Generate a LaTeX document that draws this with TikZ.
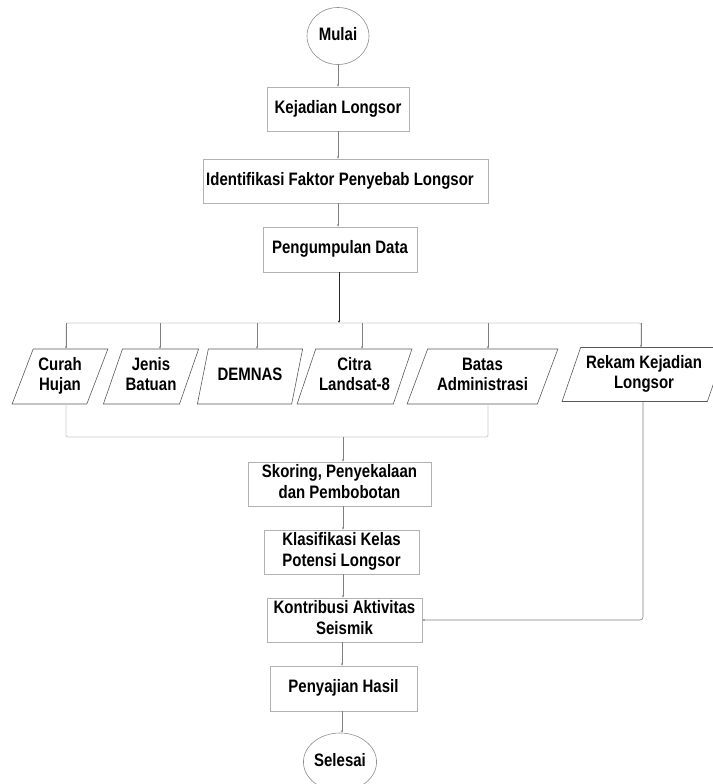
\documentclass[tikz,border=0pt]{standalone}
\usepackage{fontspec}
\usepackage{graphicx}
\setmainfont{Liberation Sans}
\usetikzlibrary{shapes.geometric,arrows.meta}
\newcommand\tx[1]{\scalebox{1}[1.2]{\begin{tabular}{@{}c@{}}#1\end{tabular}}}
\begin{document}
\begin{tikzpicture}[x=1pt,y=-1pt,
  every node/.style={font=\fontsize{15}{16.7}\selectfont\bfseries, inner sep=0pt},
  procbox/.style={draw=black!30, line width=0.7pt, rectangle, align=center},
  termnode/.style={draw=black!45, line width=0.6pt, ellipse},
  para/.style={draw=black!65, line width=0.6pt, trapezium, trapezium left angle=67,
    trapezium right angle=113, trapezium stretches=true, align=center, minimum height=55},
  conn/.style={draw=black!50, line width=0.6pt},
  arr/.style={conn, -{Stealth[length=2.5pt,width=2.2pt]}},
  busline/.style={draw=black!20, line width=0.8pt}
]
\path[use as bounding box] (0,0) rectangle (712,784);

% main column
\node[termnode, minimum width=62, minimum height=57] (mulai) at (338,36) {\tx{Mulai}};
\node[procbox, minimum width=142, minimum height=44] (kej) at (338,109) {\tx{Kejadian Longsor}};
\node[procbox, minimum width=285, minimum height=44] (ident) at (345.5,181) {\tx{Identifikasi Faktor Penyebab Longsor}\hspace{11pt}};
\node[procbox, minimum width=154, minimum height=45] (peng) at (340,249.5) {\tx{Pengumpulan Data}};

% data inputs
\node[para, minimum width=96] (curah) at (60,376.5) {\tx{Curah\\Hujan}};
\node[para, minimum width=96] (jenis) at (151,376.5) {\tx{Jenis\\Batuan}};
\node[para, minimum width=106] (demnas) at (250,376.5) {\tx{DEMNAS}};
\node[para, minimum width=115] (citra) at (354.5,376.5) {\tx{Citra\\Landsat-8}};
\node[para, minimum width=151] (batas) at (482.5,376.5) {\tx{Batas\\Administrasi}};
\node[para, minimum width=164, minimum height=54] (rekam) at (644,374.5) {\tx{Rekam Kejadian\\Longsor}};

\node[procbox, minimum width=183, minimum height=44] (skor) at (339.5,484) {\tx{Skoring, Penyekalaan\\dan Pembobotan}};
\node[procbox, minimum width=155, minimum height=44] (klas) at (341.5,552) {\tx{Klasifikasi Kelas\\Potensi Longsor}};
\node[procbox, minimum width=155, minimum height=44] (kontr) at (344.5,620) {\tx{Kontribusi Aktivitas\\Seismik}};
\node[procbox, minimum width=147, minimum height=45] (penyaj) at (343.5,688.5) {\tx{Penyajian Hasil}};
\node[termnode, minimum width=60, minimum height=58] (selesai) at (340,762) {\tx{Selesai}};

% helper coordinates
\coordinate (bus) at (0,323);
\coordinate (bus2) at (0,437);
\coordinate (c1) at (338,0);
\coordinate (c2) at (339,0);
\coordinate (c3) at (343,0);
\coordinate (c4) at (342,0);
\coordinate (dcurah) at (66,0);
\coordinate (djenis) at (160,0);
\coordinate (ddem) at (257,0);
\coordinate (dcitra) at (362,0);
\coordinate (dbatas) at (488,0);
\coordinate (drekam) at (641,0);
\coordinate (urekam) at (643,0);

% connectors
\draw[arr] (c1 |- mulai.south) -- (c1 |- kej.north);
\draw[arr] (c1 |- kej.south) -- (c1 |- ident.north);
\draw[arr] (c1 |- ident.south) -- (c1 |- peng.north);
\draw[draw=black!85, line width=0.8pt, -{Stealth[length=2.5pt,width=2.2pt]}] (c2 |- peng.south) -- (c2 |- bus);

\draw[busline, rounded corners=2pt] (dcurah |- curah.north) -- (dcurah |- bus) -- (drekam |- bus) -- (drekam |- rekam.north);
\draw[arr] (dcurah |- bus) -- (dcurah |- curah.north);
\draw[arr] (djenis |- bus) -- (djenis |- jenis.north);
\draw[arr] (ddem |- bus) -- (ddem |- demnas.north);
\draw[arr] (dcitra |- bus) -- (dcitra |- citra.north);
\draw[arr] (dbatas |- bus) -- (dbatas |- batas.north);
\draw[arr] (drekam |- bus) -- (drekam |- rekam.north);

\draw[busline, rounded corners=2pt] (dcurah |- curah.south) -- (dcurah |- bus2) -- (dbatas |- bus2) -- (dbatas |- batas.south);
\draw[arr] (c3 |- bus2) -- (c3 |- skor.north);
\draw[arr] (c3 |- skor.south) -- (c3 |- klas.north);
\draw[arr] (c3 |- klas.south) -- (c3 |- kontr.north);
\draw[arr] (c4 |- kontr.south) -- (c4 |- penyaj.north);
\draw[arr] (c4 |- penyaj.south) -- (c4 |- selesai.north);
\draw[arr, rounded corners=3pt] (urekam |- rekam.south) |- (kontr.east);
\end{tikzpicture}
\end{document}
